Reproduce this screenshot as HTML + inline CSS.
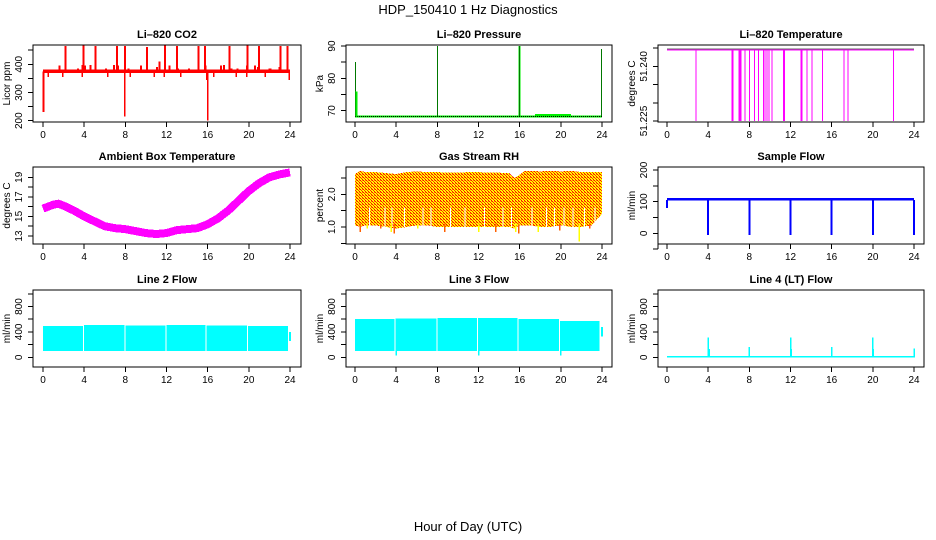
<!DOCTYPE html>
<html><head><meta charset="utf-8"><style>
html,body{margin:0;padding:0;background:#fff;}
svg{display:block;font-family:"Liberation Sans",sans-serif;}
</style></head><body>
<svg id="fig" width="936" height="540" viewBox="0 0 936 540" shape-rendering="crispEdges">
<defs>
<pattern id="rhpat" x="0" y="0" width="3" height="3" patternUnits="userSpaceOnUse">
<rect width="3" height="3" fill="#ffff00"/><rect width="1" height="1" fill="#ff0000"/><rect x="1" y="1" width="1" height="1" fill="#ff3000"/><rect x="2" y="2" width="1" height="1" fill="#ff0000"/><rect x="2" y="0" width="1" height="1" fill="#ff8000"/>
</pattern>
</defs>
<text x="468" y="14" text-anchor="middle" font-size="13">HDP_150410  1 Hz Diagnostics</text>
<text x="468" y="531" text-anchor="middle" font-size="13">Hour of Day (UTC)</text>
</svg>
<script>
// ---- data ----
const hourTicks=[0,4,8,12,16,20,24];
const co2Base=[370,381];
const co2UpT=[2.2,3.95,5.1,7.2,7.95,10.1,11.85,13.0,15.1,15.75,18.1,19.85,21.0,23.1,23.75];
const co2UpV=[465,467,465,465,465,462,467,465,465,465,465,467,465,465,465];
const co2MidT=[1.6,3.4,3.85,4.1,4.6,6.1,6.9,7.3,8.3,9.5,11.1,11.3,12.3,13.1,14.2,15.8,17.3,17.6,18.3,18.9,19.8,20.6,20.9,22.0,22.1,23.0];
const co2MidV=[395,385,397,395,397,385,397,395,385,395,390,410,395,385,385,395,395,397,385,385,395,395,390,385,385,390];
const co2DnT=[0.05,0.5,1.9,3.8,6.3,7.95,8.5,10.8,11.8,13.4,15.9,16.0,16.6,18.8,19.8,21.6,23.95];
const co2DnV=[230,355,355,355,355,215,355,355,355,355,345,200,355,355,355,355,345];
const presBase=68.2;
const presSpikeT=[0.05,8.0,16.0,23.95];
const presSpikeV=[85,90,90,89];
const presBumpT=[17.5,21.0];
const presBumpV=68.6;
const tempTop=51.2445;
const tempDropT=[2.8,6.3,6.4,7.0,7.1,7.2,7.6,8.0,8.5,8.9,9.4,9.5,9.7,9.9,10.2,11.3,11.4,13.0,13.1,13.6,14.1,15.1,17.2,17.6,22.0];
const tempDropV=51.225;
const ambT=[0,1,1.5,2,3,4,5,6,7,8,9,10,11,12,13,14,15,16,17,18,19,20,21,22,23,24];
const ambV=[15.8,16.2,16.3,16.1,15.6,15.0,14.5,14.0,13.8,13.7,13.5,13.3,13.2,13.3,13.6,13.7,13.8,14.2,14.8,15.6,16.6,17.6,18.4,19.0,19.3,19.5];
const rhT=[0,0.5,1,2,3,4,5,6,7,8,9,10,11,12,13,14,15,15.5,16,16.5,17,18,19,20,21,22,23,24];
const rhHi=[2.62,2.72,2.68,2.68,2.65,2.62,2.68,2.7,2.68,2.68,2.66,2.66,2.68,2.68,2.66,2.66,2.65,2.5,2.6,2.72,2.72,2.7,2.72,2.7,2.72,2.68,2.68,2.68];
const rhLo=[1.05,1.0,1.05,1.05,1.0,0.95,1.0,1.05,1.05,1.0,1.0,1.0,1.0,1.0,1.0,1.0,1.0,0.95,1.05,1.05,1.05,1.0,1.0,1.05,1.0,1.0,1.05,1.4];
const rhSpikeT=[0.5,1.2,2.5,3.5,3.8,6.1,8.7,12.0,13.7,15.6,15.9,17.8,19.9,21.8,22.8];
const rhSpikeV=[0.85,0.95,0.95,0.85,0.8,0.95,0.85,0.85,0.85,0.85,0.8,0.85,0.9,0.55,0.95];
const rhGapT=[1.4,2.9,3.6,4.8,6.6,7.4,9.3,10.7,12.6,14.4,15.2,17.2,18.6,19.4,20.3,21.2,22.3,23.3];
const flowBand=[103,112];
const flowDipT=[0,4,8,12,16,20,24];
const flowDipV=[80,-5,-5,-5,-5,-5,-5];
const l2Gaps=[0,3.9,7.9,11.9,15.8,19.8,23.8];
const l2Top=[490,505,500,505,500,490];
const l2Low=100;
const l2Tail=[260,400];
const l3Gaps=[0,3.85,7.9,11.85,15.8,19.8,23.75];
const l3Top=[600,610,615,615,605,575];
const l3Low=100;
const l3Tail=[330,480];
const l3DipT=[4,12,20];
const l3DipV=[30,30,30];
const l4Base=[0,20];
const l4SpikeT=[4,4.1,8,12,12.05,16,20,20.05,24];
const l4SpikeV=[310,130,160,310,130,160,310,130,140];

// ---- layout ----
const NS="http://www.w3.org/2000/svg";
const svg=document.getElementById('fig');
const cols=[{b0:33,b1:301,x0:43,x1:290},{b0:346,b1:612,x0:355,x1:602},{b0:658,b1:924,x0:667,x1:914}];
const rows=[{t:45,b:122},{t:167,b:244},{t:290,b:367}];
function el(tag,attrs,parent){const e=document.createElementNS(NS,tag);for(const k in attrs)e.setAttribute(k,attrs[k]);(parent||svg).appendChild(e);return e;}
function makePanel(name,title,ylab,c,r,yv,yp,ticks,labels){
  const C=cols[c],R=rows[r];
  const g=el('g',{});
  
  
  const sx=t=>C.x0+(C.x1-C.x0)*t/24;
  const sy=v=>yp[0]+(yp[1]-yp[0])*(v-yv[0])/(yv[1]-yv[0]);
  const plot=el('g',{},g);
  
  
  const box=el('rect',{x:C.b0,y:R.t,width:C.b1-C.b0,height:R.b-R.t,fill:'none',stroke:'#000','stroke-width':1},g);
  
  
  const tt=el('text',{x:(C.b0+C.b1)/2,y:R.t-7,'text-anchor':'middle','font-size':11,'font-weight':'bold'},g);
  tt.textContent=title;
  
  
  const xa=el('g',{stroke:'#000'},g);
  
  
  el('line',{x1:sx(0),x2:sx(24),y1:R.b,y2:R.b},xa);
  hourTicks.forEach(h=>{el('line',{x1:sx(h),x2:sx(h),y1:R.b,y2:R.b+5},xa);
    const t=el('text',{x:sx(h),y:R.b+16,'text-anchor':'middle','font-size':10,stroke:'none'},xa);t.textContent=h;
    
    });
  const ya=el('g',{stroke:'#000'},g);
  
  
  el('line',{x1:C.b0,x2:C.b0,y1:sy(ticks[0]),y2:sy(ticks[ticks.length-1])},ya);
  ticks.forEach(v=>el('line',{x1:C.b0-5,x2:C.b0,y1:sy(v),y2:sy(v)},ya));
  labels.forEach(l=>{const y=sy(l[0]);const t=el('text',{x:0,y:0,transform:`translate(${C.b0-11},${y}) rotate(-90)`,'text-anchor':'middle','font-size':10,stroke:'none'},ya);t.textContent=l[1];
    
    });
  const yl=el('text',{x:0,y:0,transform:`translate(${C.b0-23},${(R.t+R.b)/2}) rotate(-90)`,'text-anchor':'middle','font-size':10},g);
  yl.textContent=ylab;
  
  
  return {plot,sx,sy};
}
function vline(p,x,y1,y2,col,w){el('line',{x1:x,x2:x,y1:y1,y2:y2,stroke:col,'stroke-width':w||1},p);}

// CO2
let P=makePanel('co2','Li\u2013820 CO2','Licor ppm',0,0,[200,400],[120.7,64.3],[200,250,300,350,400,450],[[200,'200'],[300,'300'],[400,'400']]);
el('rect',{x:P.sx(0),y:P.sy(co2Base[1]),width:P.sx(24)-P.sx(0),height:P.sy(co2Base[0])-P.sy(co2Base[1]),fill:'#ff0000'},P.plot);
co2UpT.forEach((t,i)=>vline(P.plot,P.sx(t),P.sy(375),P.sy(co2UpV[i]),'#ff0000',2));
co2MidT.forEach((t,i)=>vline(P.plot,P.sx(t),P.sy(375),P.sy(co2MidV[i]),'#ff0000',2));
co2DnT.forEach((t,i)=>vline(P.plot,P.sx(t),P.sy(375),P.sy(co2DnV[i]),'#ff0000',i==0?2:1.5));

// Pressure
P=makePanel('pressure','Li\u2013820 Pressure','kPa',1,0,[70,90],[110.7,46],[70,75,80,85,90],[[70,'70'],[80,'80'],[90,'90']]);
el('line',{x1:P.sx(0),x2:P.sx(24),y1:P.sy(presBase),y2:P.sy(presBase),stroke:'#00ee00','stroke-width':2},P.plot);
el('line',{x1:P.sx(presBumpT[0]),x2:P.sx(presBumpT[1]),y1:P.sy(presBumpV),y2:P.sy(presBumpV),stroke:'#00ee00','stroke-width':2},P.plot);
el('line',{x1:P.sx(0),x2:P.sx(24),y1:P.sy(presBase),y2:P.sy(presBase),stroke:'#000','stroke-width':1,'stroke-dasharray':'1,1'},P.plot);
presSpikeT.forEach((t,i)=>{vline(P.plot,P.sx(t),P.sy(presBase),P.sy(presSpikeV[i]),'#00ee00',i==2?2:1);
  el('line',{x1:P.sx(t),x2:P.sx(t),y1:P.sy(presBase),y2:P.sy(presSpikeV[i]),stroke:'#000','stroke-dasharray':'1,1'},P.plot);});
vline(P.plot,P.sx(0.05)+1,P.sy(presBase),P.sy(76),'#00ee00',2);

// Li-820 temperature
P=makePanel('li820-temp','Li\u2013820 Temperature','degrees C',2,0,[51.225,51.240],[121,66.3],[51.225,51.230,51.235,51.240,51.245],[[51.225,'51.225'],[51.240,'51.240']]);
el('line',{x1:P.sx(0),x2:P.sx(24),y1:P.sy(tempTop),y2:P.sy(tempTop),stroke:'#ff00ff','stroke-width':1},P.plot);
el('line',{x1:P.sx(0),x2:P.sx(24),y1:P.sy(tempTop)-1,y2:P.sy(tempTop)-1,stroke:'#666','stroke-width':1},P.plot);
tempDropT.forEach(t=>vline(P.plot,P.sx(t),P.sy(tempTop),P.sy(tempDropV),'#ff00ff',1));

// Ambient
P=makePanel('ambient-temp','Ambient Box Temperature','degrees C',0,1,[13,19],[236,177.3],[13,14,15,16,17,18,19],[[13,'13'],[15,'15'],[17,'17'],[19,'19']]);
el('polyline',{points:ambT.map((t,i)=>P.sx(t)+','+P.sy(ambV[i])).join(' '),fill:'none',stroke:'#ff00ff','stroke-width':8,'stroke-linejoin':'round'},P.plot);

// RH
P=makePanel('gas-rh','Gas Stream RH','percent',1,1,[1,2],[227,194.3],[0.5,1.0,1.5,2.0,2.5],[[1.0,'1.0'],[2.0,'2.0']]);
{const pts=rhT.map((t,i)=>P.sx(t)+','+P.sy(rhHi[i])).concat(rhT.slice().reverse().map((t,j)=>{const i=rhT.length-1-j;return P.sx(t)+','+P.sy(rhLo[i]);}));
 el('polygon',{points:pts.join(' '),fill:'url(#rhpat)'},P.plot);}
rhGapT.forEach(t=>vline(P.plot,P.sx(t),P.sy(1.0),P.sy(1.6),'#ffffff',1));
rhSpikeT.forEach((t,i)=>vline(P.plot,P.sx(t),P.sy(1.1),P.sy(rhSpikeV[i]),i%2?'#ffff00':'#ff6000',1.5));

// Sample flow
P=makePanel('sample-flow','Sample Flow','ml/min',2,1,[0,200],[233.3,170],[-50,0,50,100,150,200],[[0,'0'],[100,'100'],[200,'200']]);
el('rect',{x:P.sx(0),y:P.sy(flowBand[1]),width:P.sx(24)-P.sx(0),height:P.sy(flowBand[0])-P.sy(flowBand[1]),fill:'#0000ff'},P.plot);
flowDipT.forEach((t,i)=>vline(P.plot,P.sx(t),P.sy(105),P.sy(flowDipV[i]),'#0000ff',2));

// Line 2
P=makePanel('line2-flow','Line 2 Flow','ml/min',0,2,[0,800],[357.3,306.5],[0,200,400,600,800,1000],[[0,'0'],[400,'400'],[800,'800']]);
l2Top.forEach((v,i)=>el('rect',{x:P.sx(l2Gaps[i])+(i?1:0),y:P.sy(v),width:P.sx(l2Gaps[i+1])-P.sx(l2Gaps[i])-(i?1:0),height:P.sy(l2Low)-P.sy(v),fill:'#00ffff'},P.plot));
vline(P.plot,P.sx(24),P.sy(l2Tail[0]),P.sy(l2Tail[1]),'#00ffff',2);

// Line 3
P=makePanel('line3-flow','Line 3 Flow','ml/min',1,2,[0,800],[357.3,306.5],[0,200,400,600,800,1000],[[0,'0'],[400,'400'],[800,'800']]);
l3Top.forEach((v,i)=>el('rect',{x:P.sx(l3Gaps[i])+(i?1:0),y:P.sy(v),width:P.sx(l3Gaps[i+1])-P.sx(l3Gaps[i])-(i?1:0),height:P.sy(l3Low)-P.sy(v),fill:'#00ffff'},P.plot));
vline(P.plot,P.sx(24),P.sy(l3Tail[0]),P.sy(l3Tail[1]),'#00ffff',2);
l3DipT.forEach((t,i)=>vline(P.plot,P.sx(t),P.sy(l3Low),P.sy(l3DipV[i]),'#00ffff',1.5));

// Line 4
P=makePanel('line4-flow','Line 4 (LT) Flow','ml/min',2,2,[0,800],[357.3,306.5],[0,200,400,600,800,1000],[[0,'0'],[400,'400'],[800,'800']]);
el('rect',{x:P.sx(0),y:P.sy(l4Base[1]),width:P.sx(24)-P.sx(0),height:P.sy(l4Base[0])-P.sy(l4Base[1]),fill:'#00ffff'},P.plot);
l4SpikeT.forEach((t,i)=>vline(P.plot,P.sx(t),P.sy(0),P.sy(l4SpikeV[i]),'#00ffff',1.5));
</script>
</body></html>
